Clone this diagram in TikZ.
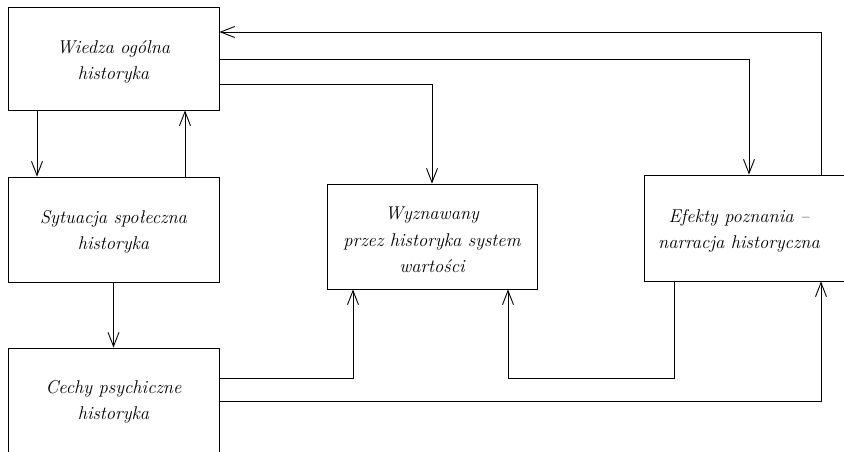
\documentclass[tikz,border=0pt]{standalone}
\usepackage{fontspec}
\usetikzlibrary{arrows.meta}
\begin{document}
\begin{tikzpicture}[x=1pt,y=-1pt,
  box/.style={draw,line width=0.9pt,rectangle,inner sep=0pt},
  lbl/.style={align=center,inner sep=0pt,font=\fontsize{18.5}{26.5}\selectfont\itshape},
  conn/.style={line width=0.9pt},
  arr/.style={conn,-{Straight Barb[length=14pt,width=11pt,line width=0.9pt]}}]
\useasboundingbox (0,0) rectangle (844,451);
\clip (0,0) rectangle (844,451);
% boxes
\node[box,minimum width=211pt,minimum height=103pt] (W) at (113.5,58.5) {};
\node[lbl] (Wt) at (113.5,62) {Wiedza ogólna\\historyka};
\node[box,minimum width=211pt,minimum height=105pt] (S) at (113.5,229.5) {};
\node[lbl] (St) at (113.5,232) {Sytuacja społeczna\\historyka};
\node[box,minimum width=211pt,minimum height=140pt] (C) at (113.5,418) {};
\node[lbl] (Ct) at (113.5,402) {Cechy psychiczne\\historyka};
\node[box,minimum width=210pt,minimum height=105pt] (V) at (432,236.5) {};
\node[lbl] (Vt) at (432,240) {Wyznawany\\przez historyka system\\wartości};
\node[box,minimum width=210pt,minimum height=106pt] (E) at (749,228) {};
\node[lbl] (Et) at (739,231) {Efekty poznania --\\narracja historyczna};
% connectors
\coordinate (a1) at (37,0);
\coordinate (a2) at (185,0);
\draw[arr] (a1 |- W.south) -- (a1 |- S.north);
\draw[arr] (a2 |- S.north) -- (a2 |- W.south);
\draw[arr] (S.south) -- (S.south |- C.north);
\coordinate (wv) at (0,84);
\draw[arr] (W.east |- wv) -| (V.north);
\coordinate (we) at (0,59);
\draw[arr] (W.east |- we) -| (E.north);
\coordinate (ew) at (821,32);
\draw[arr] (ew |- E.north) -- (ew) -- (W.east |- ew);
\coordinate (cv) at (353,378);
\draw[arr] (C.east |- cv) -- (cv) -- (cv |- V.south);
\coordinate (ev1) at (674,378);
\coordinate (ev2) at (508,378);
\draw[arr] (ev1 |- E.south) -- (ev1) -- (ev2) -- (ev2 |- V.south);
\coordinate (ce) at (821,401);
\draw[arr] (C.east |- ce) -- (ce) -- (ce |- E.south);
\end{tikzpicture}
\end{document}
